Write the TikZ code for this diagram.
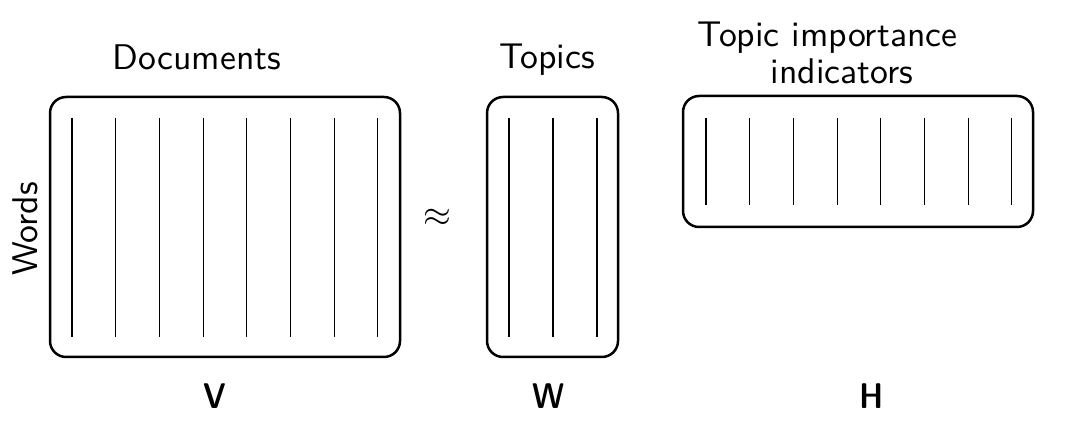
\documentclass[tikz,border=0pt]{standalone}
\usetikzlibrary{calc}
\begin{document}
\begin{tikzpicture}[x=0.28pt,y=-0.28pt,
  mat/.style={draw,line width=0.7pt,rounded corners=4.5pt,inner sep=0pt,outer sep=0pt},
  col/.style={line width=0.3pt},
  lbl/.style={font=\sffamily,inner sep=0pt},
  big/.style={font=\sffamily\fontseries{sbc}\selectfont,inner sep=0pt}]
\useasboundingbox (0,0) rectangle (1065,436);
% matrices
\node[mat,minimum width=98pt,minimum height=72.8pt] (v) at (225,227) {};
\node[mat,minimum width=36.68pt,minimum height=72.8pt] (w) at (552.5,227) {};
\node[mat,minimum width=98pt,minimum height=36.68pt] (h) at (858,161.5) {};
% columns
\foreach \i in {0,...,7}{
  \draw[col] ($(v.north west)+(22+43.7*\i,21)$) -- ($(v.south west)+(22+43.7*\i,-20)$);
  \draw[col] ($(h.north west)+(23+43.7*\i,22)$) -- ($(h.south west)+(23+43.7*\i,-22)$);
}
\foreach \i in {0,1,2}{
  \draw[col] ($(w.north west)+(22+44*\i,21)$) -- ($(w.south west)+(22+44*\i,-20)$);
}
% labels
\node[lbl,anchor=base] (doc) at (197,70) {Documents};
\node[lbl,anchor=base] (top) at (547,69) {Topics};
\node[lbl,anchor=base west] (tii1) at (697,47) {Topic importance};
\node[lbl,anchor=base west] (tii2) at (770,84) {indicators};
\node[lbl,rotate=90] (words) at (25,229) {Words};
\node[inner sep=0pt] (approx) at (437,218) {$\approx$};
\node[big,anchor=base] (vl) at (215,408) {V};
\node[big,anchor=base] (wl) at (549,408) {W};
\node[big,anchor=base] (hl) at (872,408) {H};
\end{tikzpicture}
\end{document}
